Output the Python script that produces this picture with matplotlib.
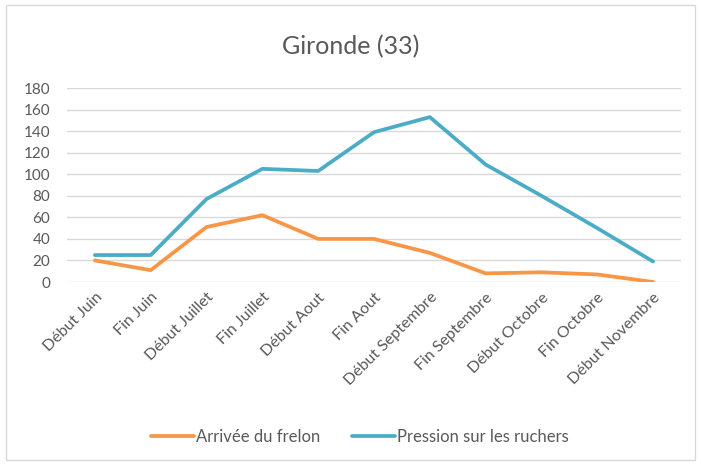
import matplotlib
matplotlib.use("Agg")
import matplotlib.pyplot as plt
from matplotlib.patches import Rectangle

categories = ["Début Juin", "Fin Juin", "Début Juillet", "Fin Juillet", "Début Aout",
              "Fin Aout", "Début Septembre", "Fin Septembre", "Début Octobre",
              "Fin Octobre", "Début Novembre"]
arrivee = [20, 11, 51, 62, 40, 40, 27, 8, 9, 7, 0]
pression = [25, 25, 77, 105, 103, 139, 153, 109, 80, 50, 19]
yticks = [0, 20, 40, 60, 80, 100, 120, 140, 160, 180]

plt.rcParams['font.family'] = ['Lato', 'DejaVu Sans']
W, H = 701, 465
fig = plt.figure(figsize=(W / 100, H / 100), dpi=100)
fig.patches.append(Rectangle((6 / W, 5 / H), 689 / W, 455 / H, transform=fig.transFigure,
                             fill=False, edgecolor='#D9D9D9', linewidth=1))

ax = fig.add_axes([67 / W, 183 / H, 614 / W, 194 / H])
x = list(range(len(categories)))
l1, = ax.plot(x, arrivee, color='#F79646', linewidth=2.7, solid_capstyle='round',
              solid_joinstyle='round', label='Arrivée du frelon')
l2, = ax.plot(x, pression, color='#4BACC6', linewidth=2.7, solid_capstyle='round',
              solid_joinstyle='round', label='Pression sur les ruchers')
ax.set_xlim(-0.5, len(categories) - 0.5)
ax.set_ylim(0, 180)
ax.set_yticks(yticks)
ax.set_yticklabels([str(v) for v in yticks])
ax.set_xticks(x)
ax.set_xticklabels(categories, rotation=45, ha='right', rotation_mode='anchor')
ax.grid(axis='y', color='#D9D9D9', linewidth=1)
ax.set_axisbelow(True)
for s in ax.spines.values():
    s.set_visible(False)
ax.tick_params(axis='both', length=0, colors='#595959')
ax.tick_params(axis='y', pad=12, labelsize=11)
ax.tick_params(axis='x', pad=6, labelsize=11.5)

fig.text(0.5, 1 - 47 / H, "Gironde (33)", ha='center', va='center', fontsize=18, color='#595959')
fig.legend(handles=[l1, l2], loc='center', bbox_to_anchor=(360 / W, 1 - 437 / H), ncol=2,
           frameon=False, fontsize=12, labelcolor='#595959', handlelength=2.6,
           columnspacing=1.9, handletextpad=0.1)
fig.savefig("out.png", dpi=100)
